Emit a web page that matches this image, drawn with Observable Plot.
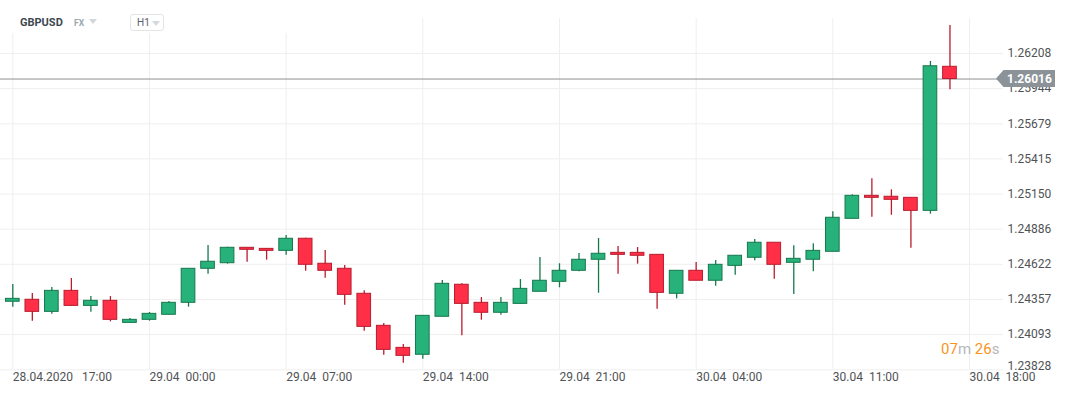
<!DOCTYPE html>
<html>
<head>
<meta charset="utf-8">
<script src="https://cdn.jsdelivr.net/npm/d3@7"></script>
<script src="https://cdn.jsdelivr.net/npm/@observablehq/plot@0.6"></script>
<style>
  html, body { margin: 0; padding: 0; background: #fff; }
  #wrap { position: relative; width: 1067px; height: 395px; font-family: Roboto, "Noto Sans", sans-serif; }
  #wrap svg { position: absolute; left: 0; top: 0; }
  #head { position: absolute; left: 0; top: 0; width: 300px; height: 33px; background: #fff; }
  #sym { position: absolute; left: 20px; top: 16px; font-size: 11px; font-weight: 700; color: #3b4850; }
  #fx { position: absolute; left: 74px; top: 18px; font-size: 8.5px; font-weight: 700; color: #9aa7ad; }
  .caret { position: absolute; width: 0; height: 0; border-left: 4px solid transparent; border-right: 4px solid transparent; border-top: 5px solid #d2d6d8; }
  #tf { position: absolute; left: 130px; top: 14px; width: 34px; height: 17px; border: 1px solid #e2e4e6; border-radius: 3px; box-sizing: border-box; }
  #tf span { position: absolute; left: 6px; top: 2px; font-size: 10px; color: #5a6166; }
  #timer { position: absolute; left: 941px; top: 340px; font-size: 15px; white-space: pre; }
  #timer .o { color: #f7951d; }
  #timer .g { color: #b4b8ba; }
</style>
</head>
<body>
<div id="wrap"></div>
<script>
// ---- data ----
const startTime = "2020-04-28T17:00:00Z"; // first hourly candle
const open  = [1.24340,1.24355,1.24264,1.24422,1.24309,1.24347,1.24181,1.24204,1.24242,1.24332,
               1.24588,1.24630,1.24746,1.24738,1.24723,1.24814,1.24626,1.24588,1.24400,1.24159,
               1.23993,1.23941,1.24227,1.24468,1.24332,1.24257,1.24324,1.24415,1.24490,1.24573,
               1.24656,1.24708,1.24708,1.24693,1.24400,1.24573,1.24498,1.24610,1.24671,1.24784,
               1.24633,1.24656,1.24716,1.24964,1.25137,1.25130,1.25122,1.25024,1.26108];
const high  = [1.24470,1.24402,1.24447,1.24515,1.24379,1.24379,1.24214,1.24259,1.24342,1.24588,
               1.24763,1.24750,1.24746,1.24738,1.24838,1.24818,1.24726,1.24613,1.24422,1.24176,
               1.24018,1.24234,1.24500,1.24475,1.24372,1.24372,1.24507,1.24673,1.24626,1.24703,
               1.24816,1.24756,1.24748,1.24693,1.24573,1.24635,1.24650,1.24686,1.24808,1.24784,
               1.24761,1.24776,1.25017,1.25145,1.25265,1.25182,1.25122,1.26148,1.26419];
const low   = [1.24299,1.24194,1.24246,1.24305,1.24261,1.24189,1.24181,1.24194,1.24240,1.24299,
               1.24547,1.24623,1.24638,1.24653,1.24690,1.24570,1.24517,1.24314,1.24118,1.23938,
               1.23878,1.23908,1.24227,1.24084,1.24201,1.24239,1.24324,1.24415,1.24445,1.24565,
               1.24404,1.24547,1.24623,1.24284,1.24362,1.24498,1.24457,1.24540,1.24648,1.24510,
               1.24394,1.24565,1.24716,1.24964,1.24976,1.24991,1.24743,1.24999,1.25935];
const close = [1.24362,1.24264,1.24422,1.24309,1.24347,1.24204,1.24204,1.24249,1.24332,1.24588,
               1.24641,1.24746,1.24731,1.24723,1.24814,1.24618,1.24573,1.24392,1.24151,1.23978,
               1.23933,1.24234,1.24475,1.24324,1.24257,1.24332,1.24437,1.24498,1.24573,1.24656,
               1.24701,1.24693,1.24686,1.24407,1.24573,1.24498,1.24618,1.24686,1.24784,1.24618,
               1.24663,1.24723,1.24972,1.25137,1.25122,1.25107,1.25024,1.26112,1.26016];
const currentPrice = 1.26016;
const yTicks = [1.26208,1.25944,1.25679,1.25415,1.25150,1.24886,1.24622,1.24357,1.24093,1.23828];
const xTickTimes = ["2020-04-28T17:00:00Z","2020-04-29T00:00:00Z","2020-04-29T07:00:00Z","2020-04-29T14:00:00Z",
                    "2020-04-29T21:00:00Z","2020-04-30T04:00:00Z","2020-04-30T11:00:00Z","2020-04-30T18:00:00Z"];
const xTickLabels = ["28.04.2020   17:00","29.04  00:00","29.04  07:00","29.04  14:00",
                     "29.04  21:00","30.04  04:00","30.04  11:00","30.04  18:00"];

// ---- build table ----
const t0 = new Date(startTime);
const candles = open.map((o, i) => ({
  t: d3.utcHour.offset(t0, i), o, h: high[i], l: low[i], c: close[i], up: close[i] >= o
}));
const xt = xTickTimes.map((s, i) => ({t: new Date(s), label: xTickLabels[i]}));

const GREEN = "#26b27a", GREEN_D = "#17784d", RED = "#ff2f47", RED_D = "#b81c2d";
const grid = "#efefef";
const font = "Roboto, 'Noto Sans', sans-serif";

const plot = Plot.plot({
  width: 1067, height: 395,
  marginLeft: 0, marginRight: 64, marginTop: 18, marginBottom: 26,
  style: {fontFamily: font, background: "transparent"},
  x: {type: "utc", domain: [new Date(xTickTimes[0]), new Date(xTickTimes[7])], range: [12.3, 969], axis: null},
  y: {domain: [1.23828, 1.26208], range: [369.3, 53], axis: null},
  marks: [
    Plot.ruleY(yTicks, {stroke: grid, strokeWidth: 1}),
    Plot.ruleX(xt, {x: "t", stroke: grid, strokeWidth: 1}),
    Plot.ruleY([currentPrice], {stroke: "#8d8f91", strokeWidth: 1}),
    Plot.ruleX(candles, {x: "t", y1: "l", y2: "h", stroke: d => d.up ? GREEN_D : RED_D, strokeWidth: 1.3}),
    Plot.rect(candles, {
      x1: d => d3.utcMinute.offset(d.t, -21), x2: d => d3.utcMinute.offset(d.t, 21),
      y1: "o", y2: "c",
      fill: d => d.up ? GREEN : RED, stroke: d => d.up ? GREEN_D : RED_D, strokeWidth: 1
    }),
    Plot.text(yTicks.slice(0, -1), {y: d => d, text: d => d.toFixed(5), frameAnchor: "right", dx: 4,
      textAnchor: "start", fontSize: 12, fill: "#505355"}),
    Plot.text(yTicks.slice(-1), {y: d => d, text: d => d.toFixed(5), frameAnchor: "right", dx: 4, dy: -4,
      textAnchor: "start", fontSize: 12, fill: "#505355"}),
    Plot.text(xt, {x: "t", text: "label", frameAnchor: "bottom", dy: 11, textAnchor: "start",
      fontSize: 12, fill: "#505355"})
  ]
});
d3.select(plot).selectAll("text").style("white-space", "pre").attr("xml:space", "preserve");

// current price tag, positioned through the plot's y scale
const ys = plot.scale("y");
const py = ys.apply(currentPrice);
const svg = d3.select(plot);
svg.append("path")
  .attr("d", `M996,${py} L1003.5,${py - 8.5} L1055,${py - 8.5} L1055,${py + 8.5} L1003.5,${py + 8.5} Z`)
  .attr("fill", "#8b9398");
svg.append("text")
  .attr("x", 1007).attr("y", py).attr("dy", "0.35em")
  .attr("text-anchor", "start")
  .attr("fill", "#ffffff").attr("font-size", 12).attr("font-weight", 700)
  .attr("font-family", font)
  .text(currentPrice.toFixed(5));

const wrap = document.getElementById("wrap");
wrap.appendChild(plot);

const head = document.createElement("div");
head.id = "head";
head.innerHTML = `<div id="sym">GBPUSD</div><div id="fx">FX</div>
  <div class="caret" style="left:89px;top:19px"></div>
  <div id="tf"><span>H1</span><div class="caret" style="left:21px;top:6px;border-top-color:#d6d9db"></div></div>`;
wrap.appendChild(head);

const timer = document.createElement("div");
timer.id = "timer";
timer.innerHTML = `<span class="o">07</span><span class="g">m </span><span class="o">26</span><span class="g">s</span>`;
wrap.appendChild(timer);
</script>
</body>
</html>
